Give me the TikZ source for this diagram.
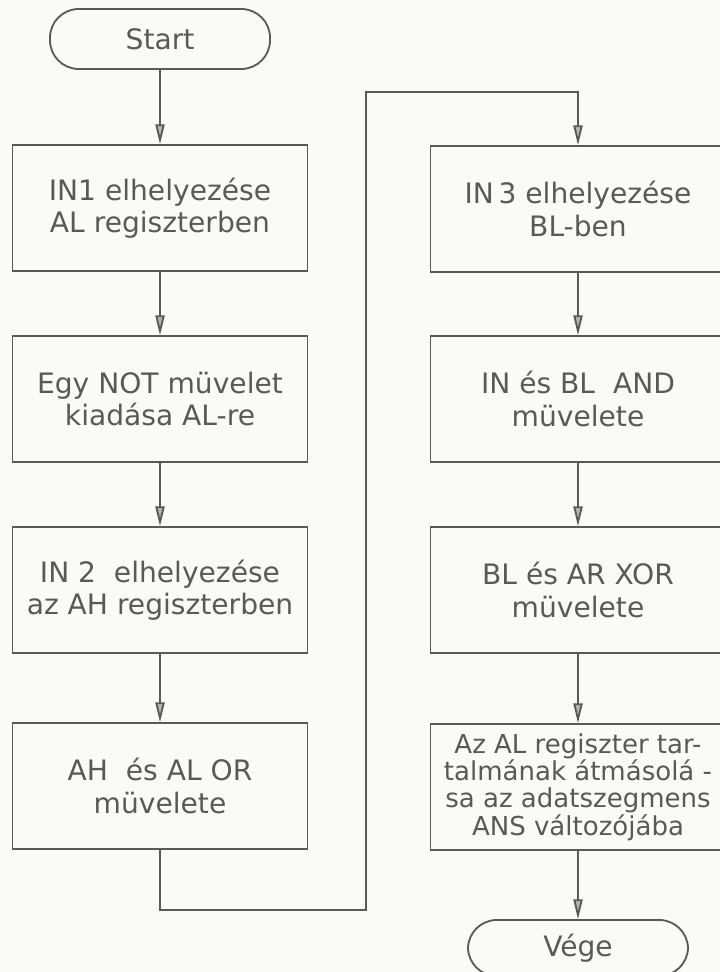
\documentclass[tikz,border=0pt]{standalone}
\usepackage{fontspec}
\setmainfont{DejaVu Sans}
\usetikzlibrary{positioning, calc, arrows.meta}
\definecolor{Ink}{HTML}{5A5A55}
\definecolor{Paper}{HTML}{FBFAF5}
\tikzset{
    stepbox/.style={rectangle, draw=Ink, line width=1.3pt, text=Ink, align=center,
        minimum width=7.375cm, minimum height=3.15cm, inner sep=0pt,
        font=\fontsize{20}{23}\selectfont},
    termbox/.style={rectangle, rounded corners=0.72cm, draw=Ink, line width=1.3pt, text=Ink,
        minimum width=5.5cm, minimum height=1.5cm, font=\fontsize{20}{23}\selectfont},
    flow/.style={draw=Ink, line width=1.3pt, -{Triangle[length=14pt, width=6.5pt, fill=Ink!45]}},
}

\begin{document}
\begin{tikzpicture}[x=0.025cm, y=-0.025cm]
    \fill[Paper] (0,0) rectangle (720,972);
    \useasboundingbox (0,0) rectangle (720,972);

    % bal oszlop
    \node[termbox] (start) at (160,39) {Start};
    \node[stepbox] (b1) at (160,208) {IN1 elhelyezése\\AL regiszterben};
    \node[stepbox] (b2) at (160,399) {Egy NOT müvelet\\kiadása AL-re};
    \node[stepbox] (b3) at (160,590) {IN 2 \ elhelyezése\\az AH regiszterben};
    \node[stepbox] (b4) at (160,786) {AH \ és AL OR\\müvelete};

    % jobb oszlop
    \node[stepbox] (b5) at (578,209) {IN\,3 elhelyezése\\BL-ben};
    \node[stepbox] (b6) at (578,399) {IN és BL \ AND\\müvelete};
    \node[stepbox] (b7) at (578,590) {BL és AR XOR\\müvelete};
    \node[stepbox, font=\fontsize{18.5}{19.5}\selectfont] (b8) at (578,787)
        {Az AL regiszter tar-\\talmának átmásolá -\\sa az adatszegmens\\ANS változójába};
    \node[termbox, minimum height=1.4cm] (end) at (578,948) {Vége};

    % nyilak
    \draw[flow] (start) -- (b1);
    \draw[flow] (b1) -- (b2);
    \draw[flow] (b2) -- (b3);
    \draw[flow] (b3) -- (b4);
    \draw[flow] (b5) -- (b6);
    \draw[flow] (b6) -- (b7);
    \draw[flow] (b7) -- (b8);
    \draw[flow] (b8) -- (end);

    % atvezetes a masodik oszlopba
    \coordinate (loopbot) at (366,910);
    \coordinate (looptop) at (366,92);
    \draw[flow] (b4.south) |- (loopbot) -- (looptop) -| (b5.north);
\end{tikzpicture}
\end{document}
